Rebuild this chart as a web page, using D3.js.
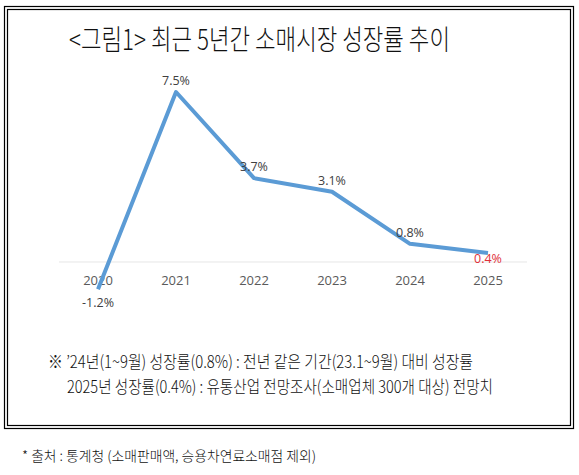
<!DOCTYPE html>
<html>
<head>
<meta charset="utf-8">
<script src="https://cdn.jsdelivr.net/npm/d3@7"></script>
<style>
  body { margin: 0; background: #fff; }
  svg { display: block; }
</style>
</head>
<body>
<div id="vis"></div>
<script>
// chart values
var years = ['2020', '2021', '2022', '2023', '2024', '2025'];
var growth = [-1.2, 7.5, 3.7, 3.1, 0.8, 0.4];
var growthLabels = ['-1.2%', '7.5%', '3.7%', '3.1%', '0.8%', '0.4%'];
var titleText = '<그림1> 최근 5년간 소매시장 성장률 추이';
var noteLines = [
    '※ ’24년(1~9월) 성장률(0.8%) : 전년 같은 기간(23.1~9월) 대비 성장률',
    '2025년 성장률(0.4%) : 유통산업 전망조사(소매업체 300개 대상) 전망치'
];
var sourceText = '* 출처 : 통계청 (소매판매액, 승용차연료소매점 제외)';

var svgW = 579, svgH = 475;
var korFont = '"Noto Sans CJK KR", "Noto Sans", sans-serif';
var numFont = '"Open Sans", "Noto Sans", sans-serif';

var svg = d3.select('#vis').append('svg').attr('width', svgW).attr('height', svgH);

// double frame
svg.append('rect').attr('x', 4.5).attr('y', 6.5).attr('width', 569).attr('height', 422)
    .attr('fill', 'none').attr('stroke', '#000').attr('stroke-width', 1.2);
svg.append('rect').attr('x', 7.5).attr('y', 9.5).attr('width', 563).attr('height', 416)
    .attr('fill', 'none').attr('stroke', '#000').attr('stroke-width', 1.2);

// title
svg.append('text').attr('x', 69).attr('y', 50).text(titleText)
    .attr('font-family', korFont).attr('font-size', 28).attr('font-weight', 300).attr('fill', '#111')
    .attr('textLength', 381).attr('lengthAdjust', 'spacingAndGlyphs');

// scales
var x = d3.scaleBand().domain(years).range([59, 527]);
var y = d3.scaleLinear().domain([-2, 8]).range([307.3, 80.7]);

var g = svg.append('g');

// zero line
g.append('line').attr('x1', x.range()[0]).attr('x2', x.range()[1])
    .attr('y1', y(0)).attr('y2', y(0)).attr('stroke', '#e6e6e6').attr('stroke-width', 1);

// year labels
g.selectAll('.yearLabel').data(years).enter().append('text').attr('class', 'yearLabel')
    .text(function(d){ return d; })
    .attr('x', function(d){ return x(d) + x.bandwidth() / 2; })
    .attr('y', y(0) + 23)
    .attr('text-anchor', 'middle')
    .attr('font-family', numFont).attr('font-size', 13).attr('fill', '#5a5a5a');

// line
var line = d3.line()
    .x(function(d, i){ return x(years[i]) + x.bandwidth() / 2; })
    .y(function(d){ return y(d); });

g.append('path').datum(growth).attr('d', line)
    .attr('fill', 'none').attr('stroke', '#5b9bd5').attr('stroke-width', 4)
    .attr('stroke-linejoin', 'round');

// data labels: first and last below the point, rest above
g.selectAll('.valLabel').data(growth).enter().append('text').attr('class', 'valLabel')
    .text(function(d, i){ return growthLabels[i]; })
    .attr('x', function(d, i){ return x(years[i]) + x.bandwidth() / 2; })
    .attr('y', function(d, i){
        if (i === 0) return y(d) + 18;
        if (i === growth.length - 1) return y(d) + 10;
        return y(d) - 7;
    })
    .attr('text-anchor', 'middle')
    .attr('font-family', numFont).attr('font-size', 12.5)
    .attr('fill', function(d, i){ return i === growth.length - 1 ? '#e0303a' : '#404040'; });

// notes
svg.append('text').attr('x', 48).attr('y', 368).text(noteLines[0])
    .attr('font-family', korFont).attr('font-size', 17).attr('font-weight', 300).attr('fill', '#111')
    .attr('textLength', 425).attr('lengthAdjust', 'spacingAndGlyphs');
svg.append('text').attr('x', 67).attr('y', 393).text(noteLines[1])
    .attr('font-family', korFont).attr('font-size', 17).attr('font-weight', 300).attr('fill', '#111')
    .attr('textLength', 426).attr('lengthAdjust', 'spacingAndGlyphs');

// source
svg.append('text').attr('x', 22).attr('y', 461).text(sourceText)
    .attr('font-family', korFont).attr('font-size', 14).attr('font-weight', 300).attr('fill', '#111')
    .attr('textLength', 294).attr('lengthAdjust', 'spacingAndGlyphs');
</script>
</body>
</html>
